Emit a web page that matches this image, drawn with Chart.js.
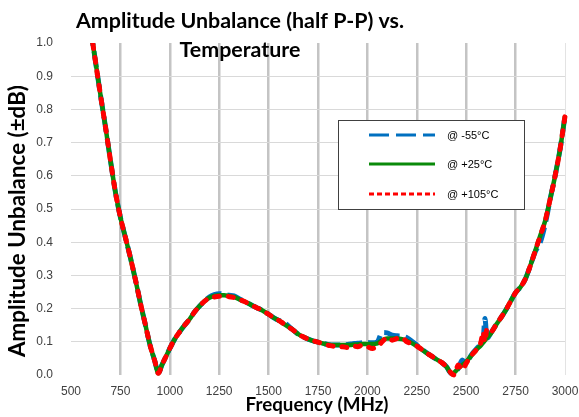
<!DOCTYPE html>
<html><head><meta charset="utf-8">
<script src="https://cdn.jsdelivr.net/npm/chart.js@4"></script>
<style>html,body{margin:0;padding:0;background:#fff;overflow:hidden}</style>
</head><body>
<canvas id="c" width="579" height="417"></canvas>
<script>
const titleLines = ['Amplitude Unbalance (half P-P) vs.', 'Temperature'];
const xAxisTitle = 'Frequency (MHz)';
const yAxisTitle = 'Amplitude Unbalance (±dB)';
const seriesLabels = ['@ -55°C', '@ +25°C', '@ +105°C'];

const freqMHz = [600,625,650,675,700,725,750,775,800,825,850,875,900,925,942,960,980,1000,1025,1050,1075,1100,1125,1150,1175,1200,1225,1250,1275,1300,1325,1350,1375,1400,1425,1450,1475,1500,1525,1550,1575,1600,1625,1650,1675,1700,1725,1750,1775,1800,1825,1850,1875,1900,1925,1950,1975,2000,2025,2050,2075,2100,2125,2150,2175,2200,2225,2250,2275,2300,2325,2350,2375,2400,2425,2440,2460,2480,2500,2525,2550,2575,2585,2595,2605,2625,2650,2675,2700,2725,2750,2775,2800,2825,2850,2875,2900,2925,2950,2975,3000];

const unbalP25 = [1.04,0.94,0.84,0.745,0.645,0.55,0.475,0.415,0.355,0.29,0.22,0.155,0.09,0.04,0.005,0.03,0.055,0.08,0.108,0.13,0.15,0.168,0.19,0.207,0.222,0.233,0.238,0.24,0.24,0.238,0.235,0.228,0.222,0.215,0.207,0.2,0.192,0.183,0.173,0.165,0.155,0.145,0.135,0.123,0.115,0.108,0.103,0.099,0.095,0.092,0.09,0.09,0.09,0.09,0.091,0.092,0.093,0.093,0.093,0.095,0.105,0.11,0.11,0.11,0.108,0.103,0.096,0.087,0.077,0.066,0.057,0.047,0.038,0.025,0.005,0.008,0.02,0.03,0.04,0.058,0.075,0.09,0.097,0.104,0.112,0.125,0.15,0.172,0.195,0.222,0.248,0.265,0.29,0.33,0.375,0.42,0.465,0.53,0.6,0.68,0.78];

const unbalM55 = [1.04,0.94,0.84,0.745,0.645,0.55,0.475,0.415,0.355,0.29,0.22,0.155,0.09,0.04,0.005,0.03,0.055,0.08,0.108,0.13,0.15,0.168,0.19,0.207,0.222,0.235,0.242,0.245,0.243,0.24,0.238,0.23,0.222,0.215,0.207,0.2,0.192,0.183,0.173,0.165,0.16,0.148,0.135,0.123,0.115,0.108,0.103,0.099,0.095,0.092,0.09,0.09,0.09,0.092,0.094,0.096,0.097,0.098,0.097,0.1,0.128,0.127,0.12,0.118,0.117,0.112,0.102,0.09,0.078,0.067,0.057,0.047,0.038,0.025,0.005,0.008,0.02,0.045,0.035,0.06,0.078,0.092,0.1,0.17,0.11,0.127,0.15,0.172,0.195,0.222,0.248,0.265,0.29,0.33,0.372,0.4,0.455,0.53,0.6,0.68,0.78];

const unbalP105 = [1.04,0.94,0.84,0.745,0.645,0.55,0.475,0.415,0.355,0.29,0.22,0.155,0.09,0.04,0.005,0.03,0.055,0.08,0.108,0.13,0.15,0.168,0.19,0.207,0.222,0.232,0.235,0.237,0.237,0.236,0.233,0.228,0.222,0.215,0.207,0.2,0.192,0.183,0.173,0.165,0.155,0.145,0.135,0.123,0.115,0.108,0.103,0.099,0.094,0.09,0.087,0.083,0.085,0.083,0.088,0.085,0.09,0.085,0.08,0.085,0.1,0.113,0.105,0.11,0.112,0.1,0.094,0.087,0.077,0.066,0.057,0.047,0.038,0.025,0.005,0.0,0.03,0.015,0.035,0.058,0.075,0.1,0.13,0.1,0.14,0.13,0.15,0.172,0.195,0.222,0.248,0.265,0.29,0.33,0.375,0.42,0.465,0.53,0.6,0.68,0.78];

const xTickValues = [500,750,1000,1250,1500,1750,2000,2250,2500,2750,3000];
const yTickValues = [0,0.1,0.2,0.3,0.4,0.5,0.6,0.7,0.8,0.9,1.0];

const seriesColors = ['#0070C0', '#0A8A0A', '#FF0000'];

function pts(vals){ return freqMHz.map((f,i)=>({x:f, y:vals[i]})); }

function fitFont(ctx, text, target, base){
  ctx.font = 'bold ' + base + 'px Lato';
  const w = ctx.measureText(text).width;
  return 'bold ' + (base * target / w).toFixed(2) + 'px Lato';
}

const overlay = {
  id: 'overlay',
  afterDraw(chart){
    const ctx = chart.ctx;
    const area = chart.chartArea;
    ctx.save();
    ctx.fillStyle = '#000';
    ctx.textAlign = 'center';
    ctx.textBaseline = 'alphabetic';
    ctx.font = fitFont(ctx, titleLines[0], 328, 20);
    ctx.fillText(titleLines[0], 240, 28);
    ctx.fillText(titleLines[1], 240, 57);
    // y axis title
    ctx.save();
    ctx.translate(18, 221);
    ctx.rotate(-Math.PI/2);
    ctx.textBaseline = 'middle';
    ctx.font = fitFont(ctx, yAxisTitle, 272, 18);
    ctx.fillText(yAxisTitle, 0, 0);
    ctx.restore();
    // x axis title
    ctx.textBaseline = 'middle';
    ctx.font = fitFont(ctx, xAxisTitle, 143, 18);
    ctx.fillText(xAxisTitle, 317, 405);
    // legend box
    ctx.fillStyle = '#fff';
    ctx.fillRect(338, 120, 186, 89);
    ctx.strokeStyle = '#404040';
    ctx.lineWidth = 1;
    ctx.strokeRect(338.5, 120.5, 186, 89);
    const rows = [135, 164, 194];
    const dashes = [[20,7],[],[5,3]];
    for (let i=0;i<3;i++){
      ctx.beginPath();
      ctx.setLineDash(dashes[i]);
      ctx.strokeStyle = seriesColors[i];
      ctx.lineWidth = 3;
      ctx.lineCap = 'butt';
      ctx.moveTo(369, rows[i]);
      ctx.lineTo(435, rows[i]);
      ctx.stroke();
      ctx.setLineDash([]);
      ctx.fillStyle = '#000';
      ctx.font = '11px "Liberation Sans"';
      ctx.textAlign = 'left';
      ctx.textBaseline = 'middle';
      ctx.fillText(seriesLabels[i], 447, rows[i]+1);
    }
    ctx.restore();
  }
};

new Chart(document.getElementById('c'), {
  type: 'line',
  data: {
    datasets: [
      { label: seriesLabels[2], data: pts(unbalP105), borderColor: seriesColors[2], borderWidth: 5, borderDash: [5,9], borderCapStyle: 'round', order: 0 },
      { label: seriesLabels[1], data: pts(unbalP25), borderColor: seriesColors[1], borderWidth: 4.5, order: 1 },
      { label: seriesLabels[0], data: pts(unbalM55), borderColor: seriesColors[0], borderWidth: 5, borderDash: [16,6], order: 2 }
    ]
  },
  options: {
    responsive: false,
    animation: false,
    devicePixelRatio: 1,
    layout: { padding: { top: 43, right: 14, left: 0, bottom: 0 } },
    elements: { point: { radius: 0 }, line: { cubicInterpolationMode: 'monotone', fill: false } },
    datasets: { line: { clip: { left: 6, right: 6, top: 0, bottom: 3 } } },
    plugins: { legend: { display: false }, title: { display: false }, tooltip: { enabled: false } },
    scales: {
      x: {
        type: 'linear', min: 500, max: 3000,
        afterBuildTicks: s => { s.ticks = xTickValues.map(v => ({ value: v })); },
        afterFit: s => { s.height = 42; s.paddingRight = 0; s.paddingLeft = 0; },
        border: { display: false },
        grid: {
          drawTicks: false,
          color: c => (c.tick && c.tick.value === 500) ? 'rgba(0,0,0,0)' : (c.tick && c.tick.value === 3000 ? '#e3e3e3' : '#c4c4c4'),
          lineWidth: c => (c.tick && c.tick.value === 3000) ? 1 : 2.5
        },
        ticks: { padding: 9, color: '#404040', font: { family: 'Liberation Sans', size: 12 }, maxRotation: 0, autoSkip: false, callback: v => String(v) },
        title: { display: false }
      },
      y: {
        type: 'linear', min: 0, max: 1,
        afterBuildTicks: s => { s.ticks = yTickValues.map(v => ({ value: v })); },
        afterFit: s => { s.width = 71; s.paddingTop = 0; s.paddingBottom = 0; },
        border: { display: false },
        grid: {
          drawTicks: false,
          color: c => (c.tick && (c.tick.value === 0 || c.tick.value === 1)) ? 'rgba(0,0,0,0)' : '#d9d9d9',
          lineWidth: 1
        },
        ticks: { padding: 18, color: '#404040', font: { family: 'Liberation Sans', size: 12 }, callback: v => v.toFixed(1) },
        title: { display: false }
      }
    }
  },
  plugins: [overlay]
});
</script>
</body></html>
